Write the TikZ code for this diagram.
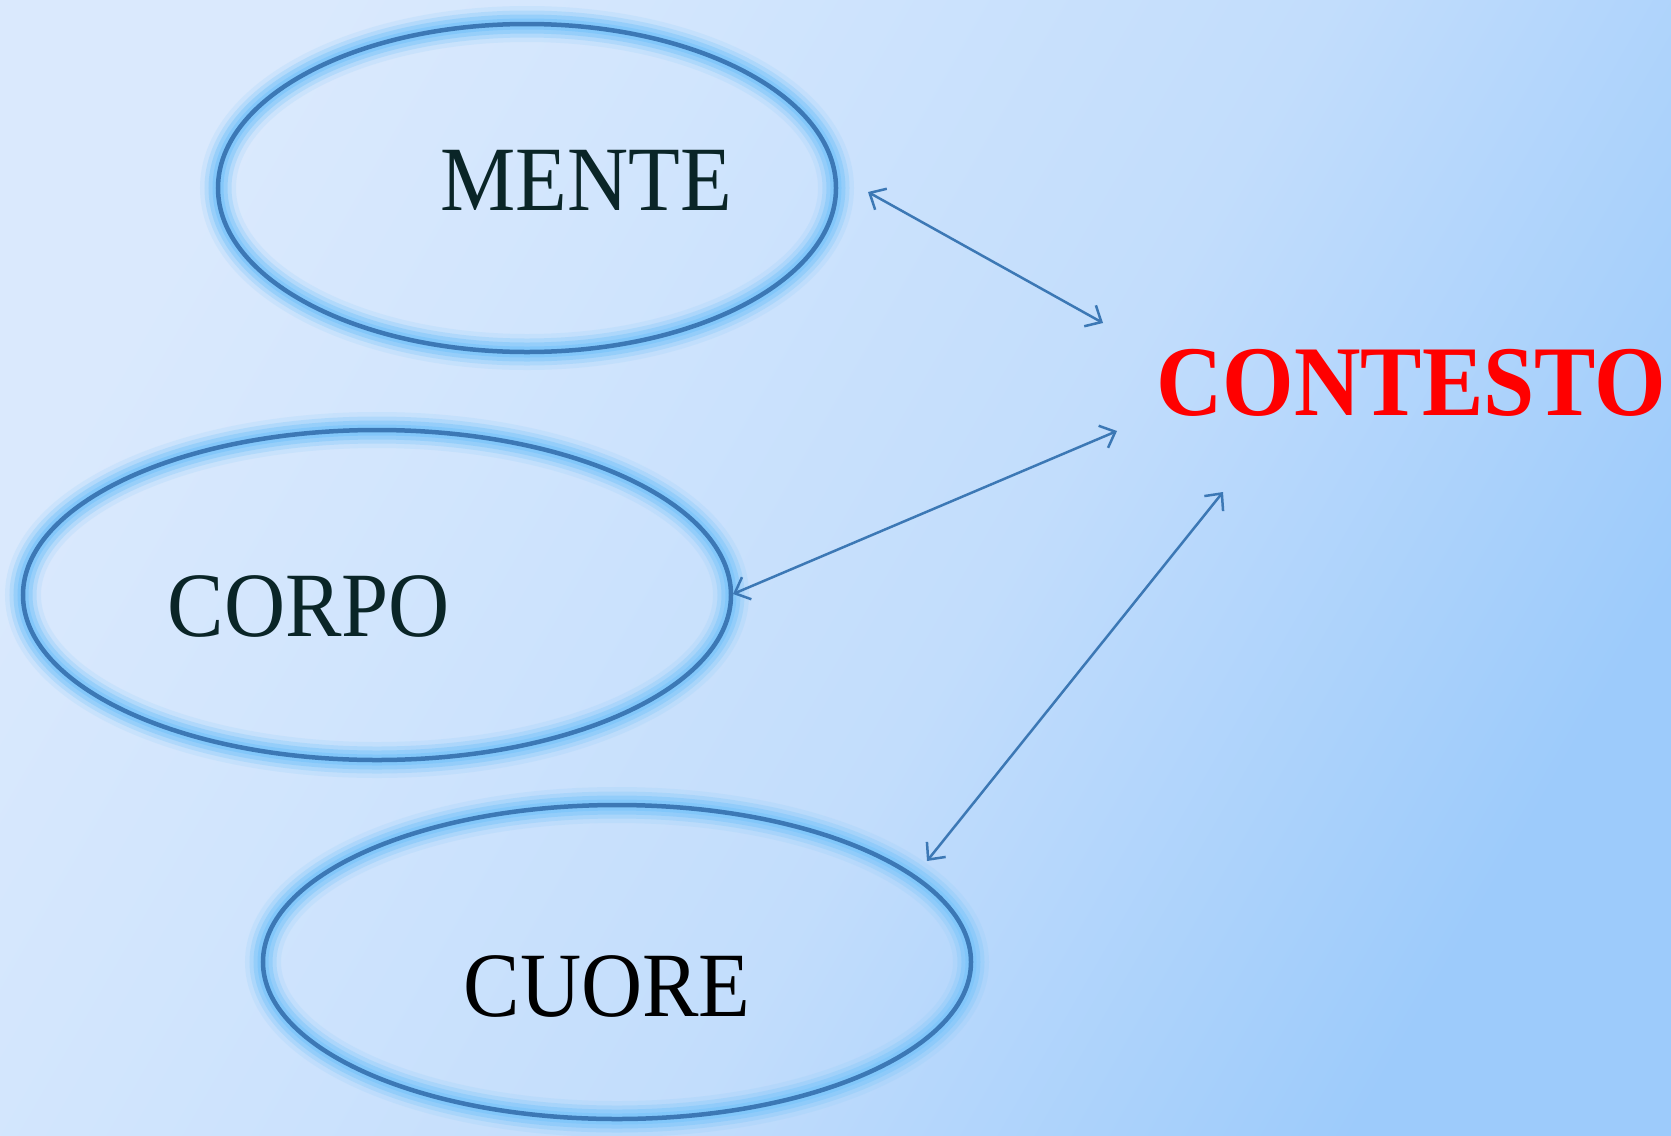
\documentclass[tikz,border=0pt]{standalone}
\usepackage{fontspec}
\setmainfont[FakeStretch=0.92]{Liberation Serif}
\usetikzlibrary{shapes.geometric,arrows.meta}
\definecolor{bgA}{HTML}{DAE9FD}
\definecolor{bgM}{HTML}{D1E5FD}
\definecolor{bgN}{HTML}{C2DDFC}
\definecolor{bgB}{HTML}{9DCBFB}
\definecolor{ring}{HTML}{3C78B5}
\definecolor{glow}{HTML}{7EC6FA}
\definecolor{txt}{HTML}{0A2527}
\pgfdeclarehorizontalshading{bgshade}{100bp}{color(0bp)=(bgA); color(25bp)=(bgA); color(37bp)=(bgM); color(55bp)=(bgN); color(75bp)=(bgB); color(100bp)=(bgB)}
\begin{document}
\begin{tikzpicture}[x=1bp,y=-1bp,
  ell/.style={ellipse, inner sep=0, draw=ring, line width=4.5bp,
    preaction={draw=glow, line width=36bp, draw opacity=0.15},
    preaction={draw=glow, line width=27bp, draw opacity=0.3},
    preaction={draw=glow, line width=19bp, draw opacity=0.5},
    preaction={draw=glow, line width=11bp, draw opacity=0.8}},
  lbl/.style={text=txt, font=\fontsize{92bp}{92bp}\selectfont, inner sep=0},
  link/.style={draw=ring, line width=2.5bp,
    {Straight Barb[length=13bp,width=24bp]}-{Straight Barb[length=13bp,width=24bp]}}]
\useasboundingbox (0,0) rectangle (1671,1135);
\shade[shading=bgshade, shading angle=-30] (0,0) rectangle (1671,1135);

\node[ell, minimum width=618bp, minimum height=328bp] (mente) at (527,188) {};
\node[ell, minimum width=708bp, minimum height=330bp] (corpo) at (377,595) {};
\node[ell, minimum width=708bp, minimum height=314bp] (cuore) at (617,962) {};

\node[lbl] (tmente) at (586,180) {MENTE};
\node[lbl] (tcorpo) at (309,606) {CORPO};
\node[lbl, text=black] (tcuore) at (607,986) {CUORE};
\node[inner sep=0, text=red, font=\fontsize{100bp}{100bp}\selectfont\bfseries] (contesto) at (1411,383) {CONTESTO};

\coordinate (a1) at (868,192);
\coordinate (b1) at (1103,323);
\coordinate (a2) at (733,594);
\coordinate (b2) at (1117,431);
\coordinate (a3) at (927,861);
\coordinate (b3) at (1223,492);
\draw[link] (a1) -- (b1);
\draw[link] (a2) -- (b2);
\draw[link] (a3) -- (b3);
\end{tikzpicture}
\end{document}
